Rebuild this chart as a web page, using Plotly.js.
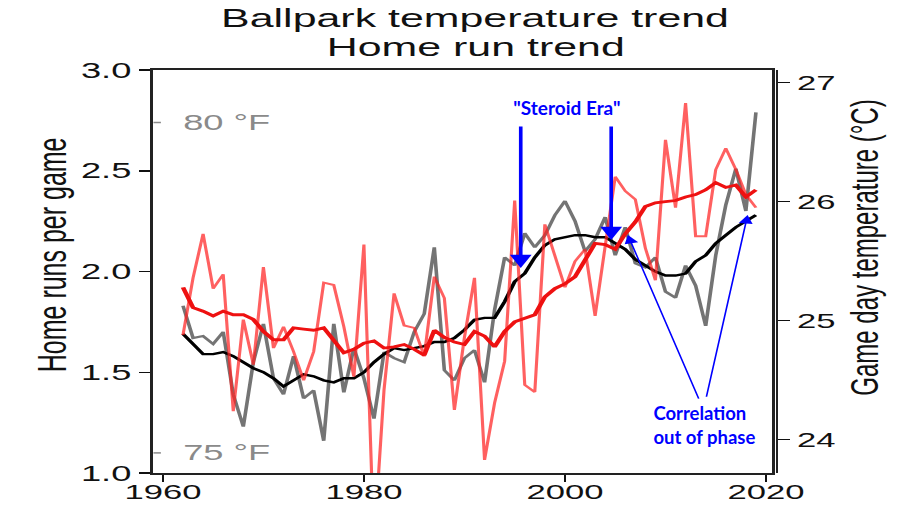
<!DOCTYPE html>
<html>
<head>
<meta charset="utf-8">
<script src="https://cdn.plot.ly/plotly-3.0.1.min.js"></script>
<style>
html,body{margin:0;padding:0;background:#fff;overflow:hidden;}
#wrap{width:916px;height:506px;overflow:hidden;position:relative;}
#plot{height:506px;transform-origin:0 0;}
</style>
</head>
<body>
<div id="wrap"><div id="plot"></div></div>
<script>
// ---- data ----
var years = [1962,1963,1964,1965,1966,1967,1968,1969,1970,1971,1972,1973,1974,1975,1976,1977,1978,1979,
  1980,1981,1982,1983,1984,1985,1986,1987,1988,1989,1990,1991,1992,1993,1994,1995,1996,1997,1998,1999,
  2000,2001,2002,2003,2004,2005,2006,2007,2008,2009,2010,2011,2012,2013,2014,2015,2016,2017,2018,2019];

// home runs per game, annual (grey)
var hrAnnual = [1.83,1.67,1.68,1.64,1.70,1.39,1.23,1.55,1.74,1.47,1.39,1.58,1.37,1.41,1.16,1.74,1.40,1.62,
  1.47,1.27,1.60,1.57,1.55,1.70,1.79,2.12,1.51,1.46,1.57,1.61,1.45,1.81,2.07,2.03,2.19,2.12,2.18,2.28,
  2.35,2.25,2.10,2.16,2.27,2.08,2.22,2.04,2.02,2.07,1.90,1.87,2.03,1.93,1.73,2.08,2.33,2.51,2.30,2.79];

// home runs per game, trend (black)
var hrTrend = [1.69,1.64,1.59,1.59,1.60,1.58,1.55,1.52,1.50,1.47,1.43,1.46,1.49,1.48,1.46,1.45,1.47,1.47,
  1.50,1.55,1.59,1.62,1.61,1.62,1.63,1.65,1.65,1.67,1.71,1.76,1.77,1.77,1.85,1.95,1.99,2.07,2.13,2.16,
  2.17,2.18,2.18,2.17,2.17,2.14,2.11,2.06,2.03,2.00,1.98,1.98,1.99,2.05,2.08,2.14,2.18,2.22,2.25,2.28];

// game day temperature (°C), annual (light red)
var tempAnnual = [24.88,25.36,25.73,25.27,25.39,24.24,25.01,24.63,25.45,24.77,24.95,24.74,24.50,24.74,25.32,25.30,24.95,24.53,
  25.64,23.12,24.42,25.23,24.96,24.94,24.70,25.37,25.19,24.25,24.86,25.36,23.83,24.31,24.66,26.01,24.46,24.40,25.81,25.55,
  25.28,25.50,25.60,25.04,25.65,26.21,26.09,26.02,25.61,25.34,26.52,25.95,26.83,25.71,25.71,26.27,26.45,26.27,26.06,25.95];

// game day temperature (°C), trend (red)
var tempTrend = [25.28,25.11,25.08,25.04,25.08,25.05,25.05,25.01,24.91,24.84,24.84,24.94,24.93,24.92,24.94,24.84,24.73,24.76,
  24.81,24.83,24.77,24.78,24.80,24.76,24.71,24.92,24.86,24.82,24.80,24.91,24.87,24.78,24.91,24.99,25.02,25.05,25.20,25.27,
  25.31,25.37,25.51,25.65,25.64,25.60,25.73,25.83,25.96,25.99,26.00,26.01,26.04,26.06,26.10,26.16,26.12,26.14,26.04,26.10];

var xTicks = [1960,1980,2000,2020];
var yTicks = [1.0,1.5,2.0,2.5,3.0];
var y2Ticks = [24,25,26,27];
var fahrenheitLabels = [80,75];
var titleLines = ['Ballpark temperature trend', 'Home run trend'];
var leftTitle = 'Home runs per game';
var rightTitle = 'Game day temperature (°C)';

// ---- layout ----
var S = 1.65;                 // the reference is stretched horizontally
var W = 916 / S;
document.getElementById('plot').style.width = W + 'px';
document.getElementById('plot').style.transform = 'scaleX(' + S + ')';

var FONT = 'Liberation Sans, Arial, Helvetica, sans-serif';
var BLUE = '#0000ff';

var traces = [
  {x: years, y: hrAnnual, type: 'scatter', mode: 'lines', yaxis: 'y',
   line: {color: 'rgba(30,30,30,0.62)', width: 2.2}, hoverinfo: 'skip'},
  {x: years, y: hrTrend, type: 'scatter', mode: 'lines', yaxis: 'y',
   line: {color: '#000000', width: 2.4}, hoverinfo: 'skip'},
  {x: years, y: tempAnnual, type: 'scatter', mode: 'lines', yaxis: 'y2',
   line: {color: 'rgba(255,35,35,0.72)', width: 1.9}, hoverinfo: 'skip'},
  {x: years, y: tempTrend, type: 'scatter', mode: 'lines', yaxis: 'y2',
   line: {color: '#ee1111', width: 2.8}, hoverinfo: 'skip'}
];

var annotations = [];
var shapes = [];
// chart titles (two lines, placed individually)
annotations.push({xref: 'paper', yref: 'paper', x: 0.518, y: 1.129, xanchor: 'center', yanchor: 'middle',
  text: titleLines[0], showarrow: false, font: {family: FONT, size: 26, color: '#111'}});
annotations.push({xref: 'paper', yref: 'paper', x: 0.518, y: 1.057, xanchor: 'center', yanchor: 'middle',
  text: titleLines[1], showarrow: false, font: {family: FONT, size: 26, color: '#111'}});
// axis titles
annotations.push({xref: 'paper', yref: 'paper', x: -0.1637, y: 0.541, xanchor: 'center', yanchor: 'middle',
  textangle: -90, text: leftTitle, showarrow: false, font: {family: FONT, size: 25, color: '#111'}});
annotations.push({xref: 'paper', yref: 'paper', x: 1.142, y: 0.558, xanchor: 'center', yanchor: 'middle',
  textangle: -90, text: rightTitle, showarrow: false, font: {family: FONT, size: 24, color: '#111'}});

fahrenheitLabels.forEach(function (f) {
  var c = (f - 32) * 5 / 9;
  annotations.push({xref: 'paper', yref: 'y2', x: 0.043, y: c, xanchor: 'left', yanchor: 'middle',
    text: f + ' °F', showarrow: false, font: {family: FONT, size: 22, color: '#8a8a8a'}});
  shapes.push({type: 'line', xref: 'paper', yref: 'y2', x0: 0, x1: 0.012, y0: c, y1: c,
    line: {color: '#8a8a8a', width: 1.5}});
});
function arrow(xh, yh, xt, yt, w, size) {
  return {xref: 'x', yref: 'y', axref: 'x', ayref: 'y', x: xh, y: yh, ax: xt, ay: yt,
    text: '', showarrow: true, arrowhead: 2, arrowsize: size, arrowwidth: w, arrowcolor: BLUE};
}
annotations.push(arrow(1995.6, 2.017, 1995.6, 2.727, 2.2, 1.2));
annotations.push(arrow(2004.6, 2.156, 2004.6, 2.727, 2.2, 1.2));
annotations.push(arrow(2006.26, 2.181, 2013.37, 1.362, 1.0, 1.7));
annotations.push(arrow(2018.17, 2.280, 2014.04, 1.371, 1.0, 1.7));
var blueIdx = [];
blueIdx.push({i: annotations.length, origin: 'center'});
annotations.push({xref: 'x', yref: 'y', x: 2000.2, y: 2.816, xanchor: 'center', yanchor: 'middle',
  text: '<b>"Steroid Era"</b>', showarrow: false, font: {family: 'Lato, Open Sans, sans-serif', size: 19, color: BLUE}});
blueIdx.push({i: annotations.length, origin: 'left center'});
annotations.push({xref: 'x', yref: 'y', x: 2008.4, y: 1.24, xanchor: 'left', yanchor: 'middle', align: 'left',
  text: '<b>Correlation<br>out of phase</b>', showarrow: false, font: {family: 'Lato, Open Sans, sans-serif', size: 18.5, color: BLUE}});

var layout = {
  width: W, height: 506,
  margin: {l: 153 / S, r: 140 / S, t: 70, b: 33, pad: 0},
  paper_bgcolor: '#ffffff', plot_bgcolor: '#ffffff',
  showlegend: false,
  font: {family: FONT, color: '#111111'},
  xaxis: {range: [1959.06, 2020.55], domain: [0, 0.9936], tickvals: xTicks, ticktext: xTicks.map(String),
    ticks: 'outside', ticklen: 7, tickwidth: 1.5, tickcolor: '#111', ticklabelstandoff: -8,
    showline: true, linecolor: '#222', linewidth: 1.6, mirror: true,
    showgrid: false, zeroline: false, automargin: false,
    tickfont: {family: FONT, size: 21, color: '#111'}},
  yaxis: {range: [1.0, 3.0], tickvals: yTicks, ticktext: yTicks.map(function (v) { return v.toFixed(1); }),
    ticks: 'outside', ticklen: 7, tickwidth: 1.5, tickcolor: '#111',
    showline: true, linecolor: '#222', linewidth: 2, mirror: true,
    showgrid: false, zeroline: false, automargin: false,
    tickfont: {family: FONT, size: 22, color: '#111'}},
  yaxis2: {range: [23.72, 27.107], overlaying: 'y', side: 'right', anchor: 'free', position: 1,
    tickvals: y2Ticks, ticktext: y2Ticks.map(String),
    ticks: 'outside', ticklen: 7, tickwidth: 1.5, tickcolor: '#111',
    showline: true, linecolor: '#222', linewidth: 1.8,
    showgrid: false, zeroline: false, automargin: false,
    tickfont: {family: FONT, size: 21, color: '#111'}},
  annotations: annotations,
  shapes: shapes
};

Plotly.newPlot('plot', traces, layout, {displayModeBar: false, staticPlot: true}).then(function (gd) {
  blueIdx.forEach(function (b) {
    var t = gd.querySelector('.annotation[data-index="' + b.i + '"] text.annotation-text');
    if (t) {
      t.style.transformBox = 'fill-box';
      t.style.transformOrigin = b.origin;
      t.style.transform = 'scaleX(' + (1 / S) + ')';
    }
  });
});
</script>
</body>
</html>
